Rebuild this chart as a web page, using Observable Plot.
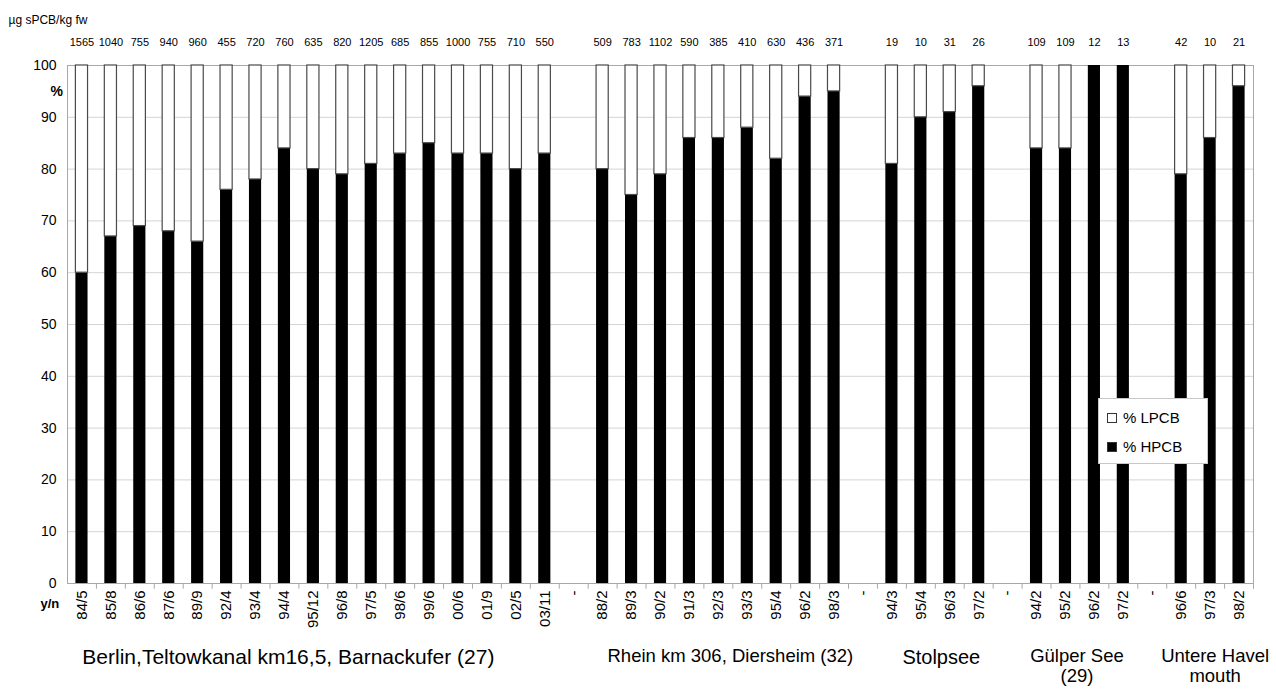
<!DOCTYPE html>
<html>
<head>
<meta charset="utf-8">
<script src="https://cdn.jsdelivr.net/npm/d3@7"></script>
<script src="https://cdn.jsdelivr.net/npm/@observablehq/plot@0.6"></script>
<style>
  body { margin: 0; background: white; font-family: "Liberation Sans", Arial, sans-serif; }
  #wrap { position: relative; width: 1276px; height: 690px; }
  #legend { position: absolute; left: 1098px; top: 398px; width: 110px; height: 66px;
    border: 1px solid #c8c8c8; background: white; font-size: 15px; box-sizing: border-box; padding: 4px 0 0 8px; }
  #legend .it { display: flex; align-items: center; height: 29px; }
  #legend .sw { width: 10px; height: 10px; border: 1px solid #333; margin-right: 6px; box-sizing: border-box; }
</style>
</head>
<body>
<div id="wrap">
  <div id="chart"></div>
  <div id="legend">
    <div class="it"><span class="sw" style="background:white"></span>% LPCB</div>
    <div class="it"><span class="sw" style="background:black"></span>% HPCB</div>
  </div>
</div>
<script>
// ---- data ----
const groupNames = [
  "Berlin,Teltowkanal km16,5, Barnackufer (27)",
  "Rhein km 306, Diersheim (32)",
  "Stolpsee",
  "Gülper See\n(29)",
  "Untere Havel\nmouth"
];
const berlinLabels = ["84/5","85/8","86/6","87/6","89/9","92/4","93/4","94/4","95/12","96/8","97/5","98/6","99/6","00/6","01/9","02/5","03/11"];
const berlinHPCB   = [60,67,69,68,66,76,78,84,80,79,81,83,85,83,83,80,83];
const berlinSPCB   = [1565,1040,755,940,960,455,720,760,635,820,1205,685,855,1000,755,710,550];
const rheinLabels = ["88/2","89/3","90/2","91/3","92/3","93/3","95/4","96/2","98/3"];
const rheinHPCB   = [80,75,79,86,86,88,82,94,95];
const rheinSPCB   = [509,783,1102,590,385,410,630,436,371];
const stolpLabels = ["94/3","95/4","96/3","97/2"];
const stolpHPCB   = [81,90,91,96];
const stolpSPCB   = [19,10,31,26];
const guelperLabels = ["94/2","95/2","96/2","97/2"];
const guelperHPCB   = [84,84,100,100];
const guelperSPCB   = [109,109,12,13];
const havelLabels = ["96/6","97/3","98/2"];
const havelHPCB   = [79,86,96];
const havelSPCB   = [42,10,21];
const gapLabel = "-";
const groupLabelShift = [-25, 12, 6, -3, 5];
const groupLabelSize = [21, 18.5, 20, 18.5, 18.5];

// ---- build table ----
const groupSeries = [
  [berlinLabels, berlinHPCB, berlinSPCB],
  [rheinLabels, rheinHPCB, rheinSPCB],
  [stolpLabels, stolpHPCB, stolpSPCB],
  [guelperLabels, guelperHPCB, guelperSPCB],
  [havelLabels, havelHPCB, havelSPCB]
];
const keys = [];
const labelOf = new Map();
const rows = [];
const groupInfo = [];
groupSeries.forEach(([labs, h, s], gi) => {
  if (gi > 0) { const k = "gap" + gi; keys.push(k); labelOf.set(k, gapLabel); }
  const startIdx = keys.length;
  labs.forEach((l, i) => {
    const k = gi + ":" + l;
    keys.push(k); labelOf.set(k, l);
    rows.push({key: k, h: h[i], total: s[i]});
  });
  const mid = startIdx + (labs.length - 1) / 2;
  groupInfo.push({name: groupNames[gi], key: keys[Math.floor(mid)], frac: mid - Math.floor(mid), shift: groupLabelShift[gi], size: groupLabelSize[gi]});
});

const W = 1276, H = 690;
const mL = 67, mR = 23, mT = 65, mB = 107;
const step = (W - mL - mR) / keys.length;

const chart = Plot.plot({
  width: W, height: H,
  marginLeft: mL, marginRight: mR, marginTop: mT, marginBottom: mB,
  style: {fontFamily: "'Liberation Sans', Arial, sans-serif", fontSize: "13px", background: "white", color: "black"},
  x: {type: "band", domain: keys, paddingInner: 0.58, paddingOuter: 0.29, align: 0.5, label: null},
  y: {domain: [0, 100], label: null},
  marks: [
    Plot.gridY(d3.range(0, 101, 10), {stroke: "#d4d4d4", strokeOpacity: 1}),
    Plot.frame({stroke: "#a8a8a8"}),
    Plot.barY(rows, {x: "key", y1: 0, y2: "h", fill: "black"}),
    Plot.barY(rows, {x: "key", y1: "h", y2: 100, fill: "white", stroke: "#4a4a4a", strokeWidth: 1.2}),
    Plot.ruleX(keys, {x: d => d, y1: 0, y2: -1.1, dx: step / 2, stroke: "#a8a8a8"}),
    Plot.axisY({ticks: d3.range(0, 101, 10), tickSize: 0, tickPadding: 11, fontSize: 14, label: null}),
    Plot.axisX({tickSize: 0, tickRotate: -90, tickPadding: 7, fontSize: 15, label: null, tickFormat: k => labelOf.get(k)}),
    Plot.text(rows, {x: "key", y: 100, text: d => String(d.total), dy: -23, fontSize: 11}),
    ...groupInfo.map(g => Plot.text([g], {x: "key", y: 0, text: "name", dx: g.frac * step + g.shift, dy: 65, lineAnchor: "top", fontSize: g.size, lineHeight: 1.06})),
    Plot.text(["µg sPCB/kg fw"], {frameAnchor: "top-left", text: d => d, dx: -59, dy: -50, textAnchor: "start", lineAnchor: "top", fontSize: 12}),
    Plot.text(["%"], {frameAnchor: "top-left", text: d => d, dx: -17, dy: 21, fontSize: 14, fontWeight: "bold"}),
    Plot.text(["y/n"], {frameAnchor: "bottom-left", text: d => d, dx: -27, dy: 24, fontSize: 13, fontWeight: "bold"})
  ]
});
document.getElementById("chart").appendChild(chart);
</script>
</body>
</html>
